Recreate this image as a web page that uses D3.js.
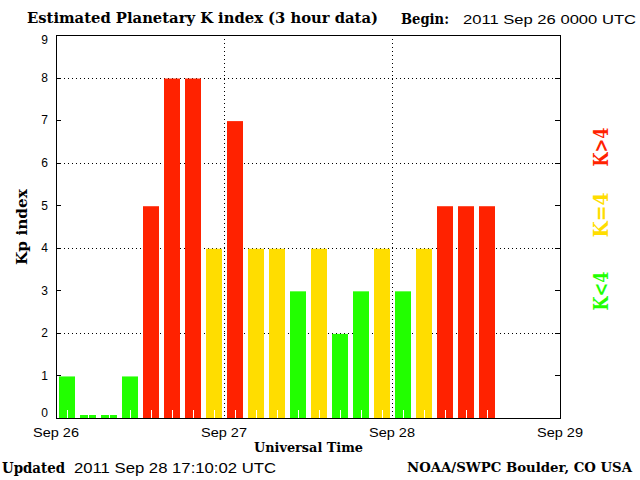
<!DOCTYPE html>
<html><head><meta charset="utf-8">
<script src="https://cdn.jsdelivr.net/npm/d3@7"></script>
<style>body{margin:0;background:#fff}svg{display:block}</style>
</head><body>
<script>
// ---- data ----
const startTimes = [
 "2011-09-26T00:00Z","2011-09-26T03:00Z","2011-09-26T06:00Z","2011-09-26T09:00Z",
 "2011-09-26T12:00Z","2011-09-26T15:00Z","2011-09-26T18:00Z","2011-09-26T21:00Z",
 "2011-09-27T00:00Z","2011-09-27T03:00Z","2011-09-27T06:00Z","2011-09-27T09:00Z",
 "2011-09-27T12:00Z","2011-09-27T15:00Z","2011-09-27T18:00Z","2011-09-27T21:00Z",
 "2011-09-28T00:00Z","2011-09-28T03:00Z","2011-09-28T06:00Z","2011-09-28T09:00Z",
 "2011-09-28T12:00Z"];
const kpValues = [1,0,0,1,5,8,8,4, 7,4,4,3,4,2,3,4, 3,4,5,5,5];
const dayTicks = ["2011-09-26T00:00Z","2011-09-27T00:00Z","2011-09-28T00:00Z","2011-09-29T00:00Z"];
const dayLabels = ["Sep 26","Sep 27","Sep 28","Sep 29"];
const yTicks = [0,1,2,3,4,5,6,7,8,9];
const gridLevels = [2,4,6,8];
const legendItems = ["K<4","K=4","K>4"];

const GREEN="#22ff00", YELLOW="#ffdd00", RED="#ff2200";
const colorFor = v => v < 4 ? GREEN : (v === 4 ? YELLOW : RED);

const W=640,H=480;
const svg = d3.select("body").append("svg").attr("width",W).attr("height",H);
svg.append("rect").attr("width",W).attr("height",H).attr("fill","#fff");

const x = d3.scaleUtc().domain([new Date(dayTicks[0]), new Date(dayTicks[3])]).range([56,560]);
const y = d3.scaleLinear().domain([0,9]).range([418,35]);
const px = v => Math.round(v)+0.5;

const SERIF = "'DejaVu Serif', serif";
const SANS = "'Liberation Sans', Arial, sans-serif";

// gridlines (dotted)
svg.append("g").selectAll("line").data(gridLevels).join("line")
  .attr("x1",56).attr("x2",560).attr("y1",d=>px(y(d))).attr("y2",d=>px(y(d)))
  .attr("stroke","#000").attr("stroke-width",1).attr("stroke-dasharray","1,3");
svg.append("g").selectAll("line").data(dayTicks.slice(1,3)).join("line")
  .attr("x1",d=>px(x(new Date(d)))).attr("x2",d=>px(x(new Date(d))))
  .attr("y1",35).attr("y2",418)
  .attr("stroke","#000").attr("stroke-width",1).attr("stroke-dasharray","1,3");

// bars
const data = startTimes.map((t,i)=>({t:new Date(t), v:kpValues[i]}));
const barW = 16;
const barTop = d => Math.min(y(d.v)+1, 415);
svg.append("g").selectAll("rect").data(data).join("rect")
  .attr("x", d=>x(d.t)+3).attr("width",barW)
  .attr("y", d=>barTop(d)).attr("height", d=>418-barTop(d))
  .attr("fill", d=>colorFor(d.v));
svg.append("g").selectAll("line").data(data).join("line")
  .attr("x1", d=>x(d.t)+11.5).attr("x2", d=>x(d.t)+11.5)
  .attr("y1", 418).attr("y2", d=>Math.max(410, barTop(d)))
  .attr("stroke","#fff").attr("stroke-width",1);

// frame
svg.append("rect").attr("x",56.5).attr("y",35.5).attr("width",504).attr("height",383)
  .attr("fill","none").attr("stroke","#000").attr("stroke-width",1);

// y ticks inward on both sides
const inner = yTicks.filter(v=>v>0 && v<9);
svg.append("g").selectAll("line").data(inner).join("line")
  .attr("x1",56).attr("x2",61).attr("y1",d=>px(y(d))).attr("y2",d=>px(y(d)))
  .attr("stroke","#000");
svg.append("g").selectAll("line").data(inner).join("line")
  .attr("x1",555).attr("x2",560).attr("y1",d=>px(y(d))).attr("y2",d=>px(y(d)))
  .attr("stroke","#000");

// y labels
svg.append("g").selectAll("text").data(yTicks).join("text")
  .attr("x",48).attr("y",d=>Math.min(Math.max(y(d),40),413)).attr("dy","0.36em")
  .attr("text-anchor","end").attr("font-family",SANS).attr("font-size",12)
  .text(d=>d);

// x labels
svg.append("g").selectAll("text").data(dayTicks).join("text")
  .attr("x",d=>x(new Date(d))).attr("y",437).attr("text-anchor","middle")
  .attr("font-family",SANS).attr("font-size",13)
  .attr("textLength",46).attr("lengthAdjust","spacingAndGlyphs")
  .text((d,i)=>dayLabels[i]);

function txt(s, xx, yy, opts){
  const t = svg.append("text").attr("x",xx).attr("y",yy).text(s)
    .attr("font-family",opts.family).attr("font-size",opts.size)
    .attr("font-weight",opts.weight||"normal").attr("fill",opts.fill||"#000");
  if(opts.len) t.attr("textLength",opts.len).attr("lengthAdjust","spacingAndGlyphs");
  if(opts.anchor) t.attr("text-anchor",opts.anchor);
  if(opts.transform) t.attr("transform",opts.transform);
  return t;
}

txt("Estimated Planetary K index (3 hour data)", 27, 23, {family:SERIF,size:14,weight:"bold",len:351});
txt("Begin:", 401, 24, {family:SERIF,size:14,weight:"bold",len:48});
txt("2011 Sep 26 0000 UTC", 463, 24, {family:SANS,size:13,len:173});
txt("Universal Time", 254, 452, {family:SERIF,size:13,weight:"bold",len:109});
txt("Updated", 2, 473, {family:SERIF,size:14,weight:"bold",len:63});
txt("2011 Sep 28 17:10:02 UTC", 74, 473, {family:SANS,size:14,len:202});
txt("NOAA/SWPC Boulder, CO USA", 407, 472, {family:SERIF,size:13,weight:"bold",len:225});

// y title
txt("Kp index", 0, 0, {family:SERIF,size:14,weight:"bold",len:76,anchor:"middle",
  transform:"translate(27,227) rotate(-90)"});

// legend (rotated)
const legendColors = [GREEN, YELLOW, RED];
const legendY = [291, 215, 147];
const legendLen = [39, 45, 39];
legendItems.forEach((s,i)=>{
  txt(s, 0, 0, {family:SERIF,size:21,weight:"bold",fill:legendColors[i],len:legendLen[i],anchor:"middle",
    transform:`translate(608,${legendY[i]}) rotate(-90)`});
});
</script>
</body></html>
